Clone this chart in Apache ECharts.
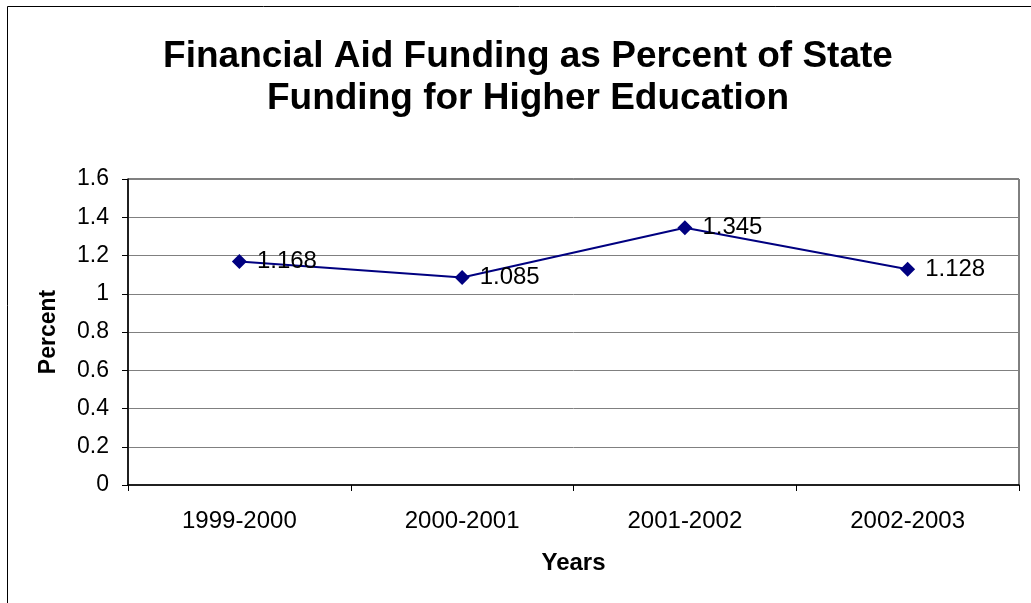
<!DOCTYPE html>
<html>
<head>
    <meta charset="utf-8">
    <title>Financial Aid Funding</title>
    <script src="https://cdn.jsdelivr.net/npm/echarts@6/dist/echarts.min.js"></script>
    <style>
        html, body { margin: 0; padding: 0; background: #fff; }
    </style>
</head>
<body>
    <div id="main" style="width: 1031px;height:603px;"></div>
    <script type="text/javascript">
        var years = ['1999-2000', '2000-2001', '2001-2002', '2002-2003'];
        var percents = [1.168, 1.085, 1.345, 1.128];
        var yTicks = { min: 0, max: 1.6, step: 0.2 };

        var myChart = echarts.init(document.getElementById('main'));
        var font = 'Liberation Sans, Arial, sans-serif';

        var option = {
            animation: false,
            backgroundColor: '#fff',
            textStyle: { fontFamily: font },
            title: {
                text: 'Financial Aid Funding as Percent of State\nFunding for Higher Education',
                left: 523,
                top: 31,
                textAlign: 'center',
                textStyle: {
                    fontFamily: font,
                    fontSize: 37,
                    fontWeight: 'bold',
                    color: '#000',
                    lineHeight: 42
                }
            },
            graphic: [{
                type: 'rect',
                shape: { x: 7.5, y: 6.5, width: 1100, height: 700 },
                style: { fill: 'none', stroke: '#000', lineWidth: 1 },
                silent: true
            }],
            grid: {
                left: 128,
                top: 179,
                right: 12,
                bottom: 118,
                show: true,
                borderColor: '#000',
                borderWidth: 1
            },
            xAxis: {
                type: 'category',
                data: years,
                boundaryGap: true,
                name: 'Years',
                nameLocation: 'middle',
                nameGap: 66,
                nameTextStyle: { fontFamily: font, fontSize: 24, fontWeight: 'bold', color: '#000' },
                axisLine: { lineStyle: { color: '#000', width: 1.5 } },
                axisTick: { show: true, alignWithLabel: false, length: 6, lineStyle: { color: '#000' } },
                axisLabel: { fontFamily: font, fontSize: 24, color: '#000', margin: 24 },
                splitLine: { show: false }
            },
            yAxis: {
                type: 'value',
                min: yTicks.min,
                max: yTicks.max,
                interval: yTicks.step,
                name: 'Percent',
                nameLocation: 'middle',
                nameGap: 68,
                nameRotate: 90,
                nameTextStyle: { fontFamily: font, fontSize: 23, fontWeight: 'bold', color: '#000' },
                axisLine: { show: true, lineStyle: { color: '#000', width: 1.5 } },
                axisTick: { show: true, length: 6, lineStyle: { color: '#000' } },
                axisLabel: {
                    fontFamily: font, fontSize: 23, color: '#000', margin: 19,
                    formatter: function (v) { return String(Math.round(v * 10) / 10); }
                },
                splitLine: { show: true, lineStyle: { color: '#808080', width: 1 } }
            },
            series: [{
                type: 'line',
                data: percents,
                symbol: 'diamond',
                symbolSize: 15,
                itemStyle: { color: '#000080' },
                lineStyle: { color: '#000080', width: 2 },
                label: {
                    show: true,
                    position: 'right',
                    distance: 10,
                    fontFamily: font,
                    fontSize: 24,
                    color: '#000',
                    formatter: function (p) { return p.value.toFixed(3); }
                }
            }]
        };

        myChart.setOption(option);
    </script>
</body>
</html>
